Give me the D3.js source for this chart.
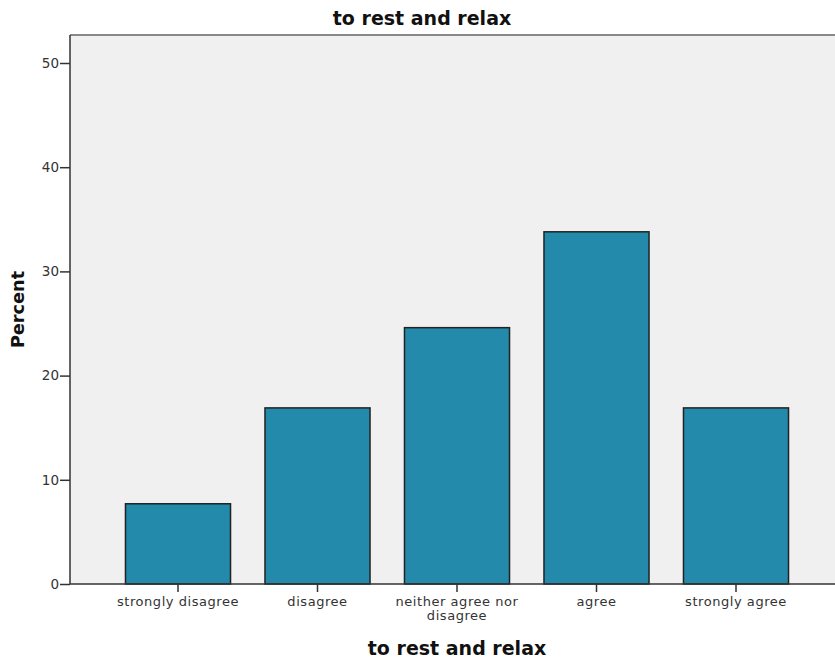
<!DOCTYPE html>
<html><head><meta charset="utf-8">
<script src="https://cdn.jsdelivr.net/npm/d3@7"></script>
<style>body{margin:0;background:#fff}svg{display:block}</style>
</head><body>
<svg id="c" width="835" height="663"></svg>
<script>
const categories = ["strongly disagree","disagree","neither agree nor disagree","agree","strongly agree"];
const percents = [7.7, 16.9, 24.6, 33.8, 16.9];
const yTicks = [0,10,20,30,40,50];
const chartTitle = "to rest and relax";
const xTitle = "to rest and relax";
const yTitle = "Percent";

(function(){
const svg = d3.select("#c");
const font = "'DejaVu Sans', sans-serif";
const pL = 70, pT = 35, pB = 584, pR = 844;

const x = d3.scaleBand().domain(categories).range([108.25, 805.75]).paddingInner(0.247).paddingOuter(0.1235);
const y = d3.scaleLinear().domain([0,50]).range([pB, 63]);

svg.append("rect").attr("x",pL).attr("y",pT).attr("width",pR-pL).attr("height",pB-pT).attr("fill","#f0f0f0");
svg.append("line").attr("x1",pL).attr("x2",pR).attr("y1",pT).attr("y2",pT).attr("stroke","#888").attr("stroke-width",2);

svg.selectAll("rect.bar").data(percents).enter().append("rect").attr("class","bar")
  .attr("x",(d,i)=>x(categories[i])).attr("width",x.bandwidth())
  .attr("y",d=>y(d)).attr("height",d=>pB-y(d))
  .attr("fill","#248aab").attr("stroke","#222").attr("stroke-width",1.5);

const yAxis = svg.append("g").attr("transform",`translate(${pL},0)`)
  .call(d3.axisLeft(y).tickValues(yTicks).tickSize(10).tickPadding(1).tickFormat(d3.format("d")));
yAxis.select(".domain").attr("d",`M0,${pT}V${pB}`).attr("stroke","#333").attr("stroke-width",1.5);
yAxis.selectAll(".tick line").attr("stroke","#333").attr("stroke-width",1.5);
yAxis.selectAll(".tick text").attr("font-family",font).attr("font-size",13.5).attr("fill","#333");

const xAxis = svg.append("g").attr("transform",`translate(0,${pB})`)
  .call(d3.axisBottom(x).tickSize(8).tickPadding(5));
xAxis.select(".domain").attr("d",`M${pL},0H${pR}`).attr("stroke","#333").attr("stroke-width",1.5);
xAxis.selectAll(".tick line").attr("stroke","#333").attr("stroke-width",1.5);
xAxis.selectAll(".tick text").attr("font-family",font).attr("font-size",13).attr("letter-spacing",0.55).attr("fill","#333")
  .each(function(d){
    if(d==="neither agree nor disagree"){
      const t=d3.select(this); t.text(null);
      t.append("tspan").attr("x",0).attr("dy","0.71em").text("neither agree nor");
      t.append("tspan").attr("x",0).attr("dy","1.05em").text("disagree");
      t.attr("dy",null);
    }
  });

svg.append("text").attr("x",422).attr("y",25).attr("text-anchor","middle")
  .attr("font-family",font).attr("font-weight","bold").attr("font-size",19).attr("fill","#111").text(chartTitle);
svg.append("text").attr("x",457).attr("y",655).attr("text-anchor","middle")
  .attr("font-family",font).attr("font-weight","bold").attr("font-size",19).attr("fill","#111").text(xTitle);
svg.append("text").attr("transform","translate(24,309.5) rotate(-90)").attr("text-anchor","middle")
  .attr("font-family",font).attr("font-weight","bold").attr("font-size",17.7).attr("fill","#111").text(yTitle);
})();
</script>
</body></html>
